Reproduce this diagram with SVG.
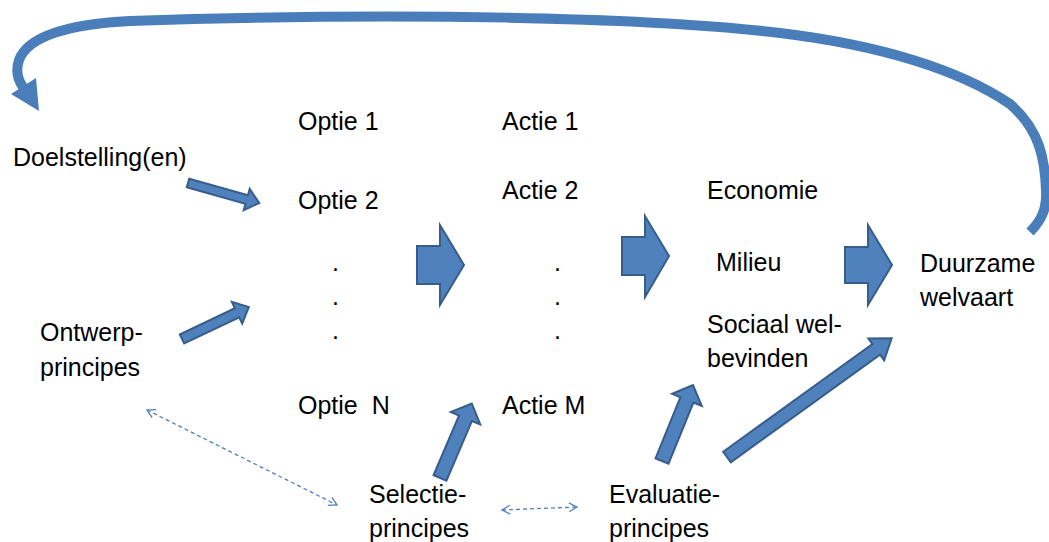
<svg xmlns="http://www.w3.org/2000/svg" width="1049" height="542" viewBox="0 0 1049 542">
  <style>
    .t { font-family: "Liberation Sans", Arial, sans-serif; font-size: 25px; fill: #000; }
    .blk { fill: #4F81BD; stroke: #385D8A; stroke-width: 2; stroke-linejoin: miter; }
    .dash { fill: none; stroke: #4F81BD; stroke-width: 1.3; stroke-dasharray: 4 3; }
    .loop { fill: none; stroke: #4A7EBB; stroke-width: 10; }
  </style>
  <defs>
    <marker id="vhead" markerUnits="userSpaceOnUse" markerWidth="14" markerHeight="14" refX="9" refY="5" orient="auto-start-reverse" viewBox="0 0 14 10">
      <path d="M1,0.5 L9,5 L1,9.5" fill="none" stroke="#4F81BD" stroke-width="1.3"/>
    </marker>
  </defs>

  <rect width="1049" height="542" fill="#ffffff"/>

  <g id="connectors">
    <g id="feedback-loop">
      <path class="loop" d="M 1030 232 C 1042 220 1047 208 1046 190 C 1045 160 1040 130 1010 104 C 960 70 880 45 780 33 C 650 17 400 12 130 21 C 70 24 28 36 19 60 C 15 72 18 80 23 87"/>
      <polygon points="11,94 39,111 36,78" fill="#4A7EBB"/>
    </g>
    <polygon id="arr-doel" class="blk" transform="translate(188,183) rotate(15.7)" points="0,-4.5 61,-4.5 61,-11 74,0 61,11 61,4.5 0,4.5"/>
    <polygon id="arr-ontwerp" class="blk" transform="translate(182,339) rotate(-25.5)" points="0,-5 61,-5 61,-12 74,0 61,12 61,5 0,5"/>
    <polygon id="arr-big1" class="blk" points="417,246 440,246 440,225 464,265 440,305 440,284 417,284"/>
    <polygon id="arr-big2" class="blk" points="622,237 645,237 645,216 669,256 645,297 645,275 622,275"/>
    <polygon id="arr-big3" class="blk" points="845,247 868,247 868,225 892,265 868,305 868,283 845,283"/>
    <polygon id="arr-selectie" class="blk" transform="translate(440,478) rotate(-66.9)" points="0,-7 65,-7 65,-16 81,0 65,16 65,7 0,7"/>
    <polygon id="arr-eval-sociaal" class="blk" transform="translate(662,461) rotate(-67.8)" points="0,-7 66,-7 66,-16 82,0 66,16 66,7 0,7"/>
    <polygon id="arr-eval-duurzaam" class="blk" transform="translate(727,457) rotate(-35.8)" points="0,-6.5 184,-6.5 184,-13.5 203,0 184,13.5 184,6.5 0,6.5"/>
    <line id="dash-ontwerp-selectie" class="dash" x1="147" y1="410" x2="337" y2="505" marker-start="url(#vhead)" marker-end="url(#vhead)"/>
    <line id="dash-selectie-evaluatie" class="dash" x1="502" y1="510" x2="577" y2="507" marker-start="url(#vhead)" marker-end="url(#vhead)"/>
  </g>

  <g id="doelstellingen"><text class="t" x="13" y="166">Doelstelling(en)</text></g>
  <g id="ontwerpprincipes"><text class="t" x="40" y="341">Ontwerp-</text><text class="t" x="40" y="376">principes</text></g>

  <g id="optie1"><text class="t" x="298" y="130">Optie 1</text></g>
  <g id="optie2"><text class="t" x="298" y="209">Optie 2</text></g>
  <g id="optie-dots"><text class="t" x="332" y="271">.</text><text class="t" x="332" y="305">.</text><text class="t" x="332" y="339">.</text></g>
  <g id="optieN"><text class="t" x="298" y="414" xml:space="preserve">Optie  N</text></g>

  <g id="actie1"><text class="t" x="502" y="130">Actie 1</text></g>
  <g id="actie2"><text class="t" x="502" y="199">Actie 2</text></g>
  <g id="actie-dots"><text class="t" x="554" y="271">.</text><text class="t" x="554" y="305">.</text><text class="t" x="554" y="339">.</text></g>
  <g id="actieM"><text class="t" x="502" y="414">Actie M</text></g>

  <g id="economie"><text class="t" x="707" y="199">Economie</text></g>
  <g id="milieu"><text class="t" x="716" y="271">Milieu</text></g>
  <g id="sociaal"><text class="t" x="707" y="333">Sociaal wel-</text><text class="t" x="707" y="367">bevinden</text></g>

  <g id="duurzame-welvaart"><text class="t" x="920" y="272">Duurzame</text><text class="t" x="920" y="306">welvaart</text></g>

  <g id="selectieprincipes"><text class="t" x="369" y="503">Selectie-</text><text class="t" x="369" y="537">principes</text></g>
  <g id="evaluatieprincipes"><text class="t" x="609" y="503">Evaluatie-</text><text class="t" x="609" y="537">principes</text></g>
</svg>
